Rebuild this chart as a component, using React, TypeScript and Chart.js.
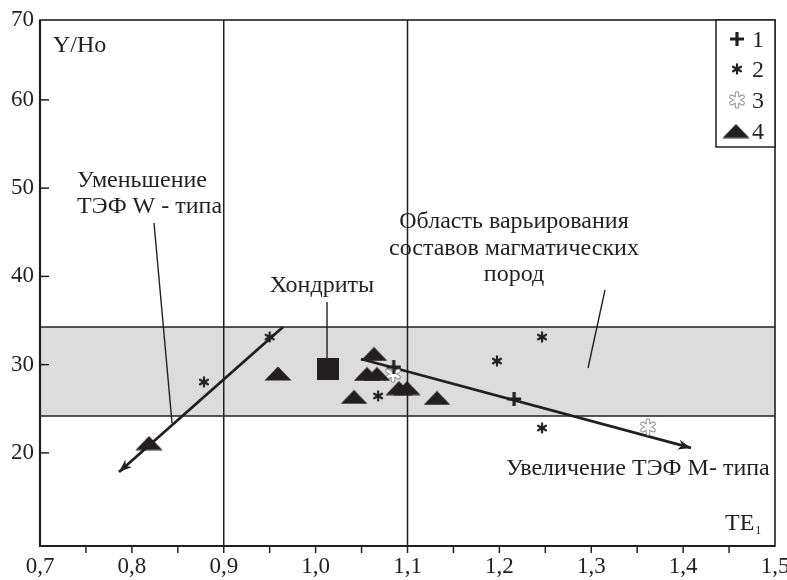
import React, { useEffect, useRef } from 'react';
import { Chart, registerables } from 'chart.js';

Chart.register(...registerables);

// ---------- data ----------
const xRange = [0.7, 1.5];
const yRange = [9.45, 69.05];
const yTickValues = [20, 30, 40, 50, 60, 69.05];
const yTickLabels = ['20', '30', '40', '50', '60', '70'];
const verticalGrid = [0.9, 1.1];
const bandRange = [24.18, 34.27];

const series1Cross = [
  { x: 1.085, y: 29.73 },
  { x: 1.216, y: 26.11 },
];
const series2Asterisk = [
  { x: 0.950, y: 33.13 },
  { x: 0.8785, y: 28.03 },
  { x: 1.068, y: 26.45 },
  { x: 1.2464, y: 33.13 },
  { x: 1.1974, y: 30.41 },
  { x: 1.2464, y: 22.82 },
];
const series3OpenAsterisk = [
  { x: 1.3618, y: 22.94 },
  { x: 1.0842, y: 28.94 },
];
const series4Triangle = [
  { x: 0.959, y: 29.0 },
  { x: 0.8186, y: 21.12 },
  { x: 1.0418, y: 26.34 },
  { x: 1.0635, y: 31.21 },
  { x: 1.0559, y: 28.94 },
  { x: 1.0668, y: 28.94 },
  { x: 1.0907, y: 27.35 },
  { x: 1.0995, y: 27.35 },
  { x: 1.1321, y: 26.22 },
];
const chondrite = [{ x: 1.0135, y: 29.51 }];

const arrowW = [
  { x: 0.9645, y: 34.27 },
  { x: 0.786, y: 17.84 },
];
const arrowM = [
  { x: 1.0494, y: 30.64 },
  { x: 1.4086, y: 20.56 },
];
const leaderW = [
  { x: 0.8241, y: 46.05 },
  { x: 0.8437, y: 23.39 },
];
const leaderChondrite = [
  { x: 1.0124, y: 37.1 },
  { x: 1.0124, y: 30.75 },
];
const leaderField = [
  { x: 1.315, y: 38.46 },
  { x: 1.2965, y: 29.62 },
];

const legendLabels = ['1', '2', '3', '4'];

const annotations = [
  { text: 'Y/Ho', x: 0.7141, y: 65.42, align: 'left' },
  { text: 'Уменьшение', x: 0.7403, y: 50.13, align: 'left' },
  { text: 'ТЭФ W - типа', x: 0.7403, y: 47.18, align: 'left' },
  { text: 'Хондриты', x: 1.0069, y: 38.23, align: 'center' },
  { text: 'Область варьирования', x: 1.2159, y: 45.48, align: 'center' },
  { text: 'составов магматических', x: 1.2159, y: 42.42, align: 'center' },
  { text: 'пород', x: 1.2159, y: 39.48, align: 'center' },
  { text: 'Увеличение ТЭФ М- типа', x: 1.2072, y: 17.5, align: 'left' },
];
const axisTitleX = { text: 'TE', sub: '1', x: 1.4456, y: 11.27 };

// ---------- styles ----------
const INK = '#231f20';
const FONT = '"Liberation Serif", "Times New Roman", serif';

function makeCanvas(w: number, h: number, draw: (c: CanvasRenderingContext2D) => void) {
  const c = document.createElement('canvas');
  c.width = w;
  c.height = h;
  const ctx = c.getContext('2d')!;
  draw(ctx);
  return c;
}

function makeMarkers() {
  const cross = makeCanvas(16, 16, (c) => {
    c.strokeStyle = INK;
    c.lineWidth = 3.2;
    c.beginPath();
    c.moveTo(1, 8); c.lineTo(15, 8);
    c.moveTo(8, 1); c.lineTo(8, 15);
    c.stroke();
  });
  const spokes = (c: CanvasRenderingContext2D, cx: number, cy: number, r: number) => {
    c.beginPath();
    for (let k = 0; k < 6; k++) {
      const a = -Math.PI / 2 + (k * Math.PI) / 3;
      c.moveTo(cx, cy);
      c.lineTo(cx + r * Math.cos(a), cy + r * Math.sin(a));
    }
    c.stroke();
  };
  const asterisk = makeCanvas(12, 12, (c) => {
    c.strokeStyle = INK;
    c.lineWidth = 2.2;
    c.lineCap = 'round';
    spokes(c, 6, 6, 4.6);
  });
  const openAsterisk = makeCanvas(18, 18, (c) => {
    c.lineCap = 'round';
    c.strokeStyle = '#8c8c8c';
    c.lineWidth = 4.6;
    spokes(c, 9, 9, 6.4);
    c.strokeStyle = '#ffffff';
    c.lineWidth = 2.6;
    spokes(c, 9, 9, 6.4);
  });
  const triangle = makeCanvas(28, 15, (c) => {
    c.fillStyle = INK;
    c.beginPath();
    c.moveTo(14, 0.5);
    c.lineTo(27.5, 14.5);
    c.lineTo(0.5, 14.5);
    c.closePath();
    c.fill();
  });
  const square = makeCanvas(22, 22, (c) => {
    c.fillStyle = INK;
    c.fillRect(0, 0, 22, 22);
  });
  return { cross, asterisk, openAsterisk, triangle, square };
}

export default function App() {
  const ref = useRef<HTMLCanvasElement | null>(null);

  useEffect(() => {
    document.body.style.margin = '0';
    const canvas = ref.current;
    if (!canvas) return;
    const m = makeMarkers();

    const line = (ctx: CanvasRenderingContext2D, x1: number, y1: number, x2: number, y2: number) => {
      ctx.beginPath();
      ctx.moveTo(x1, y1);
      ctx.lineTo(x2, y2);
      ctx.stroke();
    };

    const arrowHead = (ctx: CanvasRenderingContext2D, x1: number, y1: number, x2: number, y2: number) => {
      const ang = Math.atan2(y2 - y1, x2 - x1);
      const L = 13, W = 5, N = 9;
      const cos = Math.cos(ang), sin = Math.sin(ang);
      const pt = (back: number, side: number) => [x2 - back * cos - side * sin, y2 - back * sin + side * cos];
      const [ax, ay] = pt(L, W);
      const [bx, by] = pt(N, 0);
      const [cx, cy] = pt(L, -W);
      ctx.fillStyle = INK;
      ctx.beginPath();
      ctx.moveTo(x2, y2);
      ctx.lineTo(ax, ay);
      ctx.lineTo(bx, by);
      ctx.lineTo(cx, cy);
      ctx.closePath();
      ctx.fill();
    };

    const decor = {
      id: 'decor',
      beforeDatasetsDraw(chart: any) {
        const { ctx, chartArea: a, scales } = chart;
        const x = scales.x, y = scales.y;
        ctx.save();
        const yt = y.getPixelForValue(bandRange[1]);
        const yb = y.getPixelForValue(bandRange[0]);
        ctx.fillStyle = '#dcdcdc';
        ctx.fillRect(a.left, yt, a.right - a.left, yb - yt);
        ctx.strokeStyle = INK;
        ctx.lineWidth = 1.5;
        line(ctx, a.left, yt, a.right, yt);
        line(ctx, a.left, yb, a.right, yb);
        verticalGrid.forEach((v) => {
          const px = x.getPixelForValue(v);
          line(ctx, px, a.top, px, a.bottom);
        });
        ctx.restore();
      },
      afterDatasetsDraw(chart: any) {
        const { ctx, scales } = chart;
        const x = scales.x, y = scales.y;
        ctx.save();
        [arrowW, arrowM].forEach((arr) => {
          const p1 = arr[arr.length - 2], p2 = arr[arr.length - 1];
          arrowHead(
            ctx,
            x.getPixelForValue(p1.x), y.getPixelForValue(p1.y),
            x.getPixelForValue(p2.x), y.getPixelForValue(p2.y)
          );
        });
        ctx.restore();
      },
      afterDraw(chart: any) {
        const { ctx, chartArea: a, scales } = chart;
        const x = scales.x, y = scales.y;
        ctx.save();
        // frame
        ctx.strokeStyle = INK;
        ctx.lineWidth = 1.6;
        ctx.strokeRect(a.left, a.top, a.right - a.left, a.bottom - a.top);
        ctx.lineWidth = 2.2;
        line(ctx, a.left, a.top, a.left, a.bottom + 1);
        line(ctx, a.left - 1, a.bottom, a.right, a.bottom);
        // ticks
        ctx.lineWidth = 1.5;
        yTickValues.slice(0, -1).forEach((v) => {
          const py = y.getPixelForValue(v);
          line(ctx, a.left, py, a.left + 9, py);
        });
        for (let i = 1; i <= 15; i++) {
          const px = x.getPixelForValue(xRange[0] + i * 0.05);
          line(ctx, px, a.bottom, px, a.bottom + 7);
        }
        // annotations
        ctx.fillStyle = INK;
        ctx.font = `24px ${FONT}`;
        ctx.textBaseline = 'alphabetic';
        annotations.forEach((t) => {
          ctx.textAlign = t.align as CanvasTextAlign;
          ctx.fillText(t.text, x.getPixelForValue(t.x), y.getPixelForValue(t.y));
        });
        ctx.textAlign = 'left';
        const tx = x.getPixelForValue(axisTitleX.x);
        const ty = y.getPixelForValue(axisTitleX.y);
        ctx.font = `24px ${FONT}`;
        ctx.fillText(axisTitleX.text, tx, ty);
        const tw = ctx.measureText(axisTitleX.text).width;
        ctx.font = `12px ${FONT}`;
        ctx.fillText(axisTitleX.sub, tx + tw + 1, ty + 4);
        // legend
        const lx = 716, lt = a.top, lb = 147;
        ctx.fillStyle = '#ffffff';
        ctx.fillRect(lx, lt, a.right - lx, lb - lt);
        ctx.strokeStyle = INK;
        ctx.lineWidth = 1.5;
        ctx.strokeRect(lx, lt, a.right - lx, lb - lt);
        const markers = [m.cross, m.asterisk, m.openAsterisk, m.triangle];
        const rowsY = [39, 69, 100, 131];
        ctx.font = `24px ${FONT}`;
        ctx.fillStyle = INK;
        legendLabels.forEach((lab, i) => {
          const mk = markers[i];
          const cx = i === 3 ? 736 : 737;
          ctx.drawImage(mk, cx - mk.width / 2, rowsY[i] - mk.height / 2);
          ctx.fillText(lab, 752, rowsY[i] + 8);
        });
        ctx.restore();
      },
    };

    const lineDs = (data: any[], width: number) => ({
      type: 'scatter' as const,
      data,
      showLine: true,
      borderColor: INK,
      borderWidth: width,
      pointRadius: 0,
      fill: false,
    });
    const pointDs = (data: any[], style: HTMLCanvasElement) => ({
      type: 'scatter' as const,
      data,
      pointStyle: style,
      pointRadius: 6,
      showLine: false,
    });

    const chart = new Chart(canvas, {
      type: 'scatter',
      data: {
        datasets: [
          pointDs(series4Triangle, m.triangle),
          pointDs(chondrite, m.square),
          pointDs(series1Cross, m.cross),
          pointDs(series2Asterisk, m.asterisk),
          pointDs(series3OpenAsterisk, m.openAsterisk),
          lineDs(arrowW, 2.8),
          lineDs(arrowM, 2.8),
          lineDs(leaderW, 1.4),
          lineDs(leaderChondrite, 1.4),
          lineDs(leaderField, 1.4),
        ] as any,
      },
      options: {
        animation: false,
        responsive: false,
        devicePixelRatio: 1,
        layout: { padding: { top: 20, right: 12, left: 0, bottom: 0 } },
        plugins: { legend: { display: false }, tooltip: { enabled: false } },
        events: [],
        scales: {
          x: {
            type: 'linear',
            min: xRange[0],
            max: xRange[1],
            grid: { display: false, drawTicks: false },
            border: { display: false },
            ticks: {
              stepSize: 0.1,
              padding: 7,
              color: INK,
              font: { family: FONT, size: 23 },
              maxRotation: 0,
              callback: (v: any) => Number(v).toFixed(1).replace('.', ','),
            },
            afterFit: (s: any) => {
              s.height = 34;
              s.paddingLeft = 0;
              s.paddingRight = 0;
            },
          },
          y: {
            type: 'linear',
            min: yRange[0],
            max: yRange[1],
            grid: { display: false, drawTicks: false },
            border: { display: false },
            afterBuildTicks: (s: any) => {
              s.ticks = yTickValues.map((v) => ({ value: v }));
            },
            ticks: {
              padding: 6,
              color: INK,
              font: { family: FONT, size: 23 },
              callback: (v: any) => {
                const i = yTickValues.findIndex((t) => Math.abs(t - Number(v)) < 1e-6);
                return i >= 0 ? yTickLabels[i] : '';
              },
            },
            afterFit: (s: any) => {
              s.width = 40;
              s.paddingTop = 0;
              s.paddingBottom = 0;
            },
          },
        },
      },
      plugins: [decor],
    });

    return () => chart.destroy();
  }, []);

  return (
    <div style={{ width: 787, height: 580, position: 'relative', background: '#fff' }}>
      <canvas ref={ref} width={787} height={580} />
    </div>
  );
}
